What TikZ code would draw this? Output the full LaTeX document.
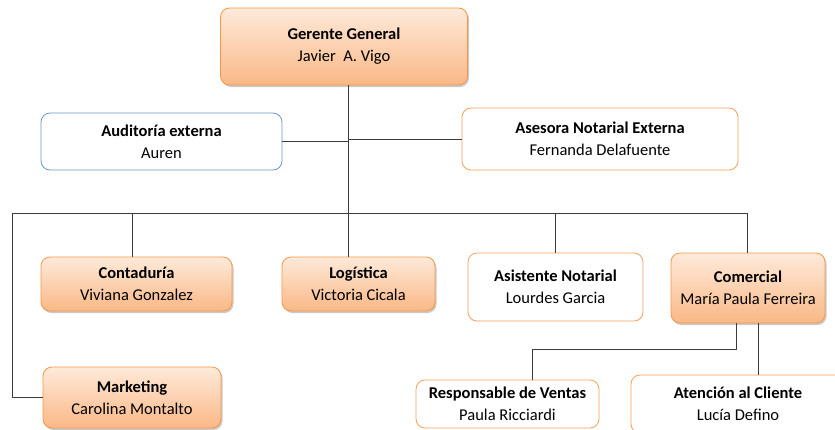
\documentclass[tikz,border=0pt]{standalone}
\usepackage{fontspec}
\setmainfont{Carlito}
\usepackage{tikz}
\usetikzlibrary{positioning, shadows, calc}
\definecolor{orgtop}{RGB}{254,234,218}
\definecolor{orgbot}{RGB}{250,184,134}
\definecolor{orgline}{RGB}{247,150,70}
\definecolor{audblue}{RGB}{110,150,205}
\definecolor{connline}{RGB}{60,60,60}

\begin{document}
\begin{tikzpicture}[x=1pt, y=-1pt, font=\fontsize{16.5}{22}\selectfont,
  unit/.style={draw=orgline, thick, rounded corners=9pt, top color=orgtop, bottom color=orgbot, align=center, inner sep=0pt,
    drop shadow={shadow xshift=1.5pt, shadow yshift=-2pt, opacity=0.35, fill=black!60}},
  plain/.style={draw=orgline!90, thick, rounded corners=9pt, fill=white, align=center, inner sep=0pt},
  aud/.style={draw=audblue, thick, rounded corners=9pt, fill=white, align=center, inner sep=0pt},
  conn/.style={draw=connline, line width=0.9pt}]
  \useasboundingbox (0,0) rectangle (835,429);
  \clip (0,0) rectangle (835,429);
  \node[unit, minimum width=247pt, minimum height=77pt] (gg) at (344,46.5) {\textbf{Gerente General}\\Javier\ \ A. Vigo};
  \node[aud, minimum width=241pt, minimum height=57pt] (audit) at (161.5,141.5) {\textbf{Auditoría externa}\\Auren};
  \node[plain, minimum width=276pt, minimum height=62pt] (asesora) at (600,139) {\textbf{Asesora Notarial Externa}\\Fernanda Delafuente};
  \node[unit, minimum width=191pt, minimum height=54pt] (cont) at (136.5,284) {\textbf{Contaduría}\\Viviana Gonzalez};
  \node[unit, minimum width=153pt, minimum height=54pt] (logi) at (358.5,284) {\textbf{Logística}\\Victoria Cicala};
  \node[plain, minimum width=175pt, minimum height=68pt] (asist) at (555.5,287) {\textbf{Asistente Notarial}\\Lourdes Garcia};
  \node[unit, minimum width=154pt, minimum height=70pt] (comer) at (748,288) {\textbf{Comercial}\\María Paula Ferreira};
  \node[unit, minimum width=178pt, minimum height=61pt] (mkt) at (132,397.5) {\textbf{Marketing}\\Carolina Montalto};
  \node[plain, minimum width=183pt, minimum height=48pt] (ventas) at (507.5,404) {\textbf{Responsable de Ventas}\\Paula Ricciardi};
  \node[plain, minimum width=214pt, minimum height=58pt] (aten) at (738,404) {\textbf{Atención al Cliente}\\Lucía Defino};
  \coordinate (trunk) at (348,213);
  \coordinate (busL) at (12,213);
  \coordinate (busR) at (747,213);
  \draw[conn] (gg.south -| trunk) -- (trunk);
  \draw[conn] (audit.east) -- (audit.east -| trunk);
  \draw[conn] (asesora.west) -- (asesora.west -| trunk);
  \draw[conn] (busL) -- (busR);
  \draw[conn] ([xshift=-4.5pt]cont.north |- busL) -- ([xshift=-4.5pt]cont.north);
  \draw[conn] (trunk) -- (trunk |- logi.north);
  \draw[conn] (asist.north |- busL) -- (asist.north);
  \draw[conn] (busR) -- (busR |- comer.north);
  \draw[conn] (busL) |- (mkt.west);
  \draw[conn] ([xshift=-12pt]comer.south) -- ++(0,26) -| ([xshift=24.5pt]ventas.north);
  \draw[conn] ([xshift=10pt]comer.south) -- ([xshift=10pt]comer.south |- aten.north);
\end{tikzpicture}
\end{document}
